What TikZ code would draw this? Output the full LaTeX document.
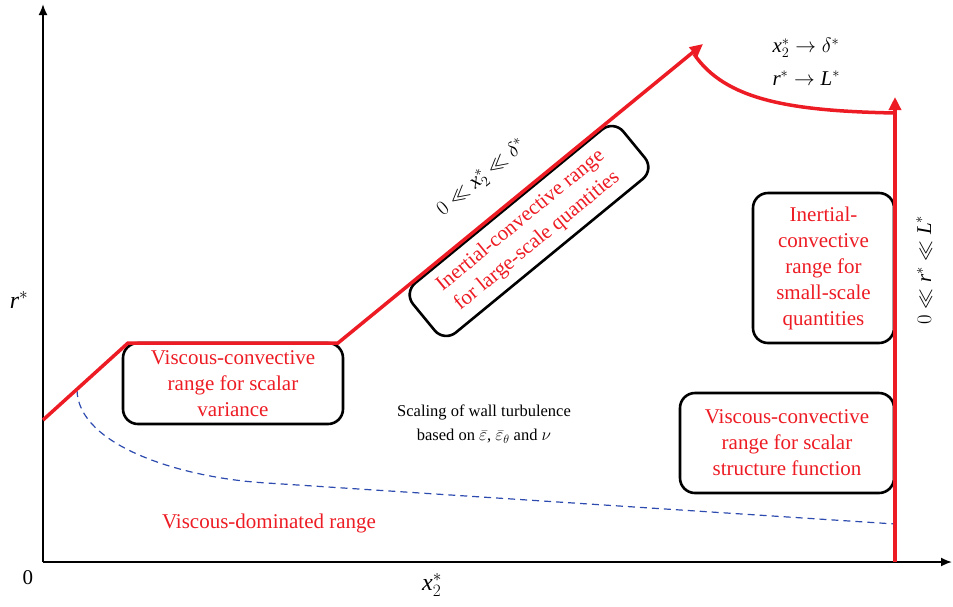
\documentclass[tikz,border=0pt]{standalone}
\usepackage{fontspec}
\setmainfont{Liberation Serif}
\usetikzlibrary{arrows.meta}
\definecolor{figred}{RGB}{237,28,36}
\definecolor{figblue}{RGB}{45,75,175}
\newcommand{\vi}[1]{\textit{#1}}
\begin{document}
\begin{tikzpicture}[x=1pt,y=-1pt,
  axis/.style={line width=1.8pt,-{Latex[length=11pt,width=9pt]}},
  redline/.style={draw=figred,line width=3.5pt},
  redtip/.style={-{Triangle[length=13pt,width=12pt]}},
  bluedash/.style={draw=figblue,line width=1.2pt,dash pattern=on 7pt off 5pt},
  rangebox/.style={draw=black,line width=2.6pt,rounded corners=15pt,align=center,text=figred,
    font=\fontsize{21}{26}\selectfont,inner sep=0pt},
  lab/.style={font=\fontsize{21}{26}\selectfont},
  biglab/.style={font=\fontsize{24}{28}\selectfont},
  smalllab/.style={font=\fontsize{21}{26}\selectfont}]
\useasboundingbox (0,0) rectangle (953,606);
% axes
\coordinate (O) at (43,562);
\coordinate (ytop) at (43,4);
\coordinate (xend) at (952,562);
\draw[axis] (O) -- (ytop);
\draw[axis] (O) -- (xend);
% blue dashed boundary
\coordinate (b0) at (77,390);
\coordinate (b1) at (267,483);
\coordinate (b2) at (895,524);
\draw[bluedash] (b0) .. controls (78,445) and (180,478) .. (b1) -- (b2);
% boxes
\node[rangebox,minimum width=220pt,minimum height=81pt] (vcs) at (233,383.5)
  {Viscous-convective\\range for scalar\\variance};
\node[rangebox,minimum width=272pt,minimum height=64pt,rotate=39.4] (icl) at (529,231)
  {Inertial-convective range\\for large-scale quantities};
\node[rangebox,minimum width=141pt,minimum height=150pt] (ics) at (823.5,268)
  {Inertial-\\convective\\range for\\small-scale\\quantities};
\node[rangebox,minimum width=214pt,minimum height=100pt] (vcf) at (787,443)
  {Viscous-convective\\range for scalar\\structure function};
% red boundary lines
\coordinate (r0) at (43,420);
\coordinate (r1) at (128,343);
\coordinate (r2) at (338,343);
\coordinate (r3) at (703,44);
\draw[redline,redtip] (r0) -- (r1) -- (r2) -- (r3);
\coordinate (c0) at (694,54);
\coordinate (c1) at (895,113);
\draw[redline] (c0) .. controls (725,100) and (790,111) .. (c1);
\coordinate (v0) at (895,562);
\coordinate (v1) at (895,97);
\draw[redline,redtip] (v0) -- (v1);
% labels
\node[lab] (zero) at (28,578) {0};
\node[biglab] (xlab) at (432,585) {$\vi{x}_2^*$};
\node[biglab] (rlab) at (19,300) {$\vi{r}^*$};
\node[smalllab,rotate=39.4] (xrange) at (482,178) {$0\ll \vi{x}_2^*\ll\delta^*$};
\node[smalllab,rotate=90] (rrange) at (924,270) {$0\ll \vi{r}^*\ll \vi{L}^*$};
\node[smalllab,anchor=west] (lim1) at (769,48) {$\vi{x}_2^*\rightarrow\delta^*$};
\node[smalllab,anchor=west] (lim2) at (769,78) {$\vi{r}^*\rightarrow \vi{L}^*$};
\node[font=\fontsize{16.5}{24}\selectfont,align=center] (scal) at (484,424)
  {Scaling of wall turbulence\\based on $\bar{\varepsilon}$, $\bar{\varepsilon}_\theta$ and $\nu$};
\node[lab,text=figred] (vdr) at (269,523) {Viscous-dominated range};
\end{tikzpicture}
\end{document}
